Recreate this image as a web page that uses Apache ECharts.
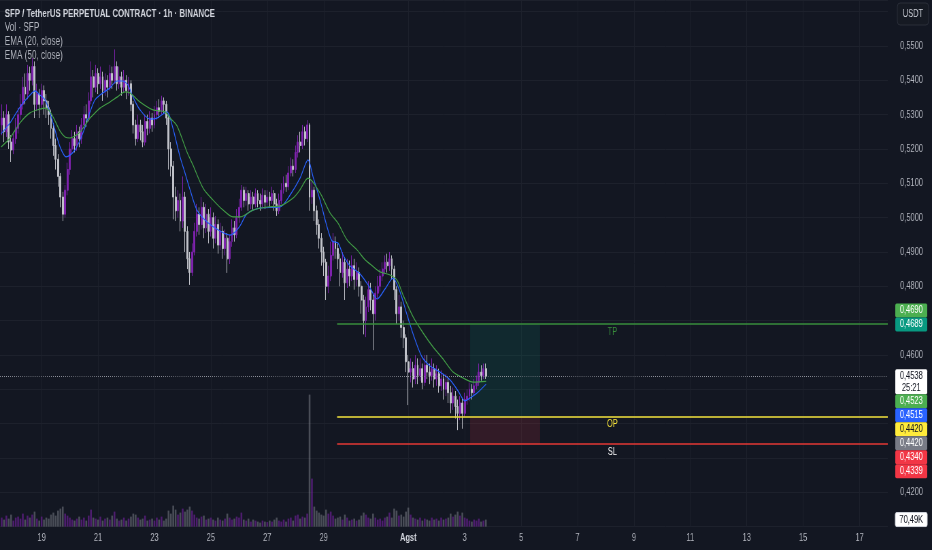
<!DOCTYPE html>
<html>
<head>
<meta charset="utf-8">
<script src="https://cdn.jsdelivr.net/npm/echarts@6/dist/echarts.min.js"></script>
<style>
html,body{margin:0;padding:0;background:#131722;overflow:hidden;width:932px;height:550px;}
#c{width:1370px;height:550px;transform:scaleX(0.680292);transform-origin:0 0;}
</style>
</head>
<body>
<div id="c"></div>
<script>
// ---------------- DATA (prices in 1e-4 USDT, time in hours from 17 Jul 00:00) ----------------
const startHour = 14;          // first candle (2h candles)
const stepHours = 2;
const firstOpenE4 = 5270;
const closeE4 = [
5290,5250,5300,5220,5197,5230,5260,5300,5330,5380,
5360,5420,5400,5440,5330,5360,5330,5370,5340,5320,
5300,5260,5210,5170,5120,5060,5010,5080,5140,5200,
5230,5210,5250,5230,5270,5300,5290,5340,5410,5380,
5420,5390,5410,5370,5400,5380,5420,5400,5440,5390,
5410,5380,5400,5370,5390,5330,5270,5230,5270,5250,
5220,5280,5260,5290,5270,5300,5320,5310,5340,5330,
5290,5200,5150,5060,5020,5050,4990,5060,4960,4880,
4840,4900,4960,5010,4980,5030,4970,5010,4960,5000,
4940,4980,4920,4960,4910,4940,4880,4930,4970,4950,
5000,5030,5080,5050,5070,5040,5060,5040,5070,5050,
5040,5065,5045,5060,5050,5070,5040,5020,5050,5080,
5100,5090,5130,5150,5140,5190,5220,5210,5250,5230,
5270,5060,5080,5020,4980,4940,4900,4870,4800,4830,
4890,4930,4910,4880,4840,4870,4810,4850,4830,4860,
4820,4840,4800,4760,4700,4740,4790,4760,4720,4780,
4800,4830,4850,4870,4860,4880,4850,4790,4720,4740,
4680,4650,4580,4550,4560,4530,4570,4540,4560,4520,
4570,4550,4540,4560,4530,4545,4510,4530,4500,4520,
4490,4460,4480,4450,4430,4460,4430,4470,4480,4500,
4490,4510,4520,4550,4540,4560,4538
];
const highE4 = [
5330,5310,5330,5310,5240,5250,5290,5320,5360,5410,
5420,5445,5440,5465,5455,5390,5375,5390,5385,5360,
5340,5315,5275,5230,5185,5130,5075,5095,5160,5220,
5255,5250,5270,5265,5290,5325,5330,5365,5455,5430,
5445,5435,5440,5425,5420,5415,5445,5440,5490,5455,
5440,5425,5430,5415,5410,5400,5340,5285,5300,5285,
5270,5300,5300,5310,5305,5325,5340,5345,5355,5350,
5340,5300,5220,5165,5090,5080,5070,5120,5075,4975,
4900,4925,4985,5040,5030,5060,5045,5040,5025,5030,
5015,5005,4995,4985,4975,4965,4955,4950,4995,4990,
5025,5055,5095,5090,5090,5080,5080,5075,5085,5080,
5070,5085,5080,5080,5075,5090,5080,5055,5070,5100,
5120,5125,5150,5175,5170,5210,5240,5250,5270,5265,
5284,5275,5110,5090,5035,4995,4955,4915,4880,4860,
4930,4955,4945,4925,4895,4900,4885,4880,4875,4890,
4880,4870,4855,4815,4775,4770,4815,4810,4775,4800,
4830,4850,4870,4890,4895,4900,4890,4860,4800,4775,
4755,4700,4660,4600,4590,4580,4600,4590,4590,4575,
4600,4600,4575,4590,4575,4570,4560,4555,4545,4545,
4535,4510,4505,4495,4470,4480,4475,4490,4500,4520,
4515,4530,4540,4575,4570,4575,4575
];
const lowE4 = [
5240,5220,5235,5200,5162,5185,5215,5245,5285,5315,
5330,5345,5370,5385,5290,5310,5290,5315,5300,5290,
5270,5230,5180,5140,5090,5030,4990,5000,5065,5125,
5185,5190,5195,5205,5215,5255,5265,5280,5330,5350,
5365,5360,5375,5340,5355,5350,5370,5375,5390,5370,
5375,5355,5365,5345,5355,5310,5245,5210,5220,5225,
5205,5210,5240,5245,5250,5260,5285,5290,5300,5305,
5270,5140,5120,4995,4990,5000,4960,4970,4900,4850,
4804,4830,4890,4945,4950,4965,4940,4955,4925,4945,
4910,4925,4895,4905,4880,4890,4839,4865,4915,4930,
4940,4985,5020,5030,5035,5020,5025,5020,5030,5030,
5020,5030,5025,5035,5030,5040,5020,5005,5010,5040,
5070,5075,5080,5120,5120,5130,5175,5190,5200,5210,
5220,5020,5040,4990,4950,4910,4860,4830,4760,4780,
4815,4875,4880,4850,4800,4825,4760,4795,4800,4815,
4790,4800,4770,4720,4660,4652,4725,4730,4614,4700,
4765,4785,4815,4835,4840,4845,4820,4760,4690,4700,
4650,4620,4550,4454,4520,4505,4515,4515,4525,4500,
4510,4530,4515,4525,4505,4510,4490,4495,4470,4480,
4460,4430,4440,4415,4381,4410,4385,4420,4455,4465,
4470,4480,4500,4510,4525,4530,4530
];
const volumeK = [
90,70,110,80,120,60,90,100,80,130,
70,110,90,120,150,80,60,100,70,90,
80,120,140,110,160,180,200,130,110,90,
70,60,80,100,70,90,60,110,170,90,
80,70,100,60,80,90,70,110,150,80,
60,70,90,60,80,100,130,120,90,70,
80,110,60,70,80,60,90,70,100,60,
80,160,130,210,170,120,140,180,150,170,
200,160,120,90,80,100,110,70,80,90,
70,60,90,70,60,80,130,90,70,80,
100,90,140,70,60,80,50,70,60,50,
40,60,50,45,60,50,70,90,60,50,
70,50,80,90,60,110,120,80,100,90,
130,1320,480,200,160,140,120,110,170,130,
150,110,80,90,100,70,120,90,60,70,
80,60,70,110,140,120,90,80,130,90,
70,80,60,90,100,140,90,180,160,110,
120,100,150,190,120,90,80,70,90,60,
80,70,60,90,70,80,60,90,70,80,
90,130,100,120,150,110,140,90,80,60,
50,70,60,80,50,60,70
];
const lastVolumeK = 70.49;
const ema20Hours = [13.5,21.1,29.6,38.1,42.4,46.6,50.9,55.2,59.4,63.7,68.8,72.2,76.4,80.7,85,89.2,93.4,97.7,106.2,112.2,116.4,121.5,125.8,131.7,140.3,146.2,154.7,159,165.8,170,174.3,180.2,188.8,199.8,208.3,212.6,216.8,222.8,233.9,250.9,259.4,267.9,274.7,279,284.9,290.9,295.1,300.2,304.5,310.5,319,327.5,333.4,340.2,347,353,359,365.8,371.7,378.5,387,395.6,402.4,408.3,412.6,418.5,426.2];
const ema20E4 = [5244,5276,5322,5357,5369,5357,5343,5305,5255,5206,5177,5182,5197,5226,5264,5308,5343,5357,5378,5398,5398,5386,5351,5314,5287,5290,5308,5270,5177,5130,5081,5022,4987,4961,4949,4958,4976,5011,5028,5031,5066,5115,5168,5118,5051,4973,4932,4926,4891,4859,4836,4795,4763,4792,4824,4783,4716,4644,4594,4568,4550,4527,4495,4466,4475,4489,4515];
const ema50Hours = [13.5,21.1,29.6,38.1,46.6,50.9,55.2,59.4,63.7,67.9,72.2,76.4,80.7,85,89.2,93.4,97.7,106.2,112.2,119,123.2,131.7,142.8,153,157.3,163.2,171.7,176.8,185.4,193.9,202.4,210.9,216.8,227.9,239.8,250.9,262,267.9,274.7,284.9,293.4,300.2,307.9,316.4,323.2,327.5,336,344.5,350.4,355.5,364.1,372.6,381.1,389.6,398.1,406.6,415.1,426.2];
const ema50E4 = [5206,5232,5276,5305,5316,5319,5308,5282,5252,5235,5232,5238,5249,5270,5290,5305,5319,5337,5351,5366,5363,5337,5314,5308,5290,5267,5191,5153,5086,5051,5022,5002,5002,5022,5031,5034,5057,5081,5115,5072,5014,4984,4935,4906,4877,4865,4842,4833,4818,4775,4711,4664,4623,4588,4550,4533,4521,4523];

// time axis
const axisStartHour = 12.6, axisEndHour = 768;
const dayTickHours = [48,96,144,192,240,288,360,408,456,504,552,600,648,696,744];
const dayTickLabels = ['19','21','23','25','27','29','Agst','3','5','7','9','11','13','15','17'];
// price axis
const priceMinE4 = 4100, priceMaxE4 = 5633.9, priceStepE4 = 100;
const priceLabelsShownE4 = [4200,4600,4800,4900,5000,5100,5200,5300,5400,5500];
const volumeAxisMaxK = 5266;

// trade levels
const lastPriceE4 = 4538, countdown = '25:21';
const tpLineE4 = 4690, slLineE4 = 4340, opLineE4 = 4420;
const posTargetE4 = 4689, posEntryE4 = 4420, posStopE4 = 4339;
const levelLineStartHour = 299.4;
const positionStartHour = 412.6, positionEndHour = 472.2;

const titleText = 'SFP / TetherUS PERPETUAL CONTRACT · 1h · BINANCE';
const legendLines = ['Vol · SFP', 'EMA (20, close)', 'EMA (50, close)'];

// ---------------- CHART ----------------
const FONT = '"Liberation Sans", Arial, sans-serif';
const UP = '#7e22ad', DOWN = '#c0c2c9';
const pip = v => v / 10000;
const fmt = v => pip(v).toFixed(4).replace('.', ',');

const candles = closeE4.map((c, i) => {
  const o = i === 0 ? firstOpenE4 : closeE4[i - 1];
  return [startHour + i * stepHours, pip(o), pip(c), pip(lowE4[i]), pip(highE4[i])];
});
const volData = volumeK.map((v, i) => {
  const o = i === 0 ? firstOpenE4 : closeE4[i - 1];
  const up = closeE4[i] >= o;
  return { value: [startHour + i * stepHours, v],
           itemStyle: { color: up ? 'rgba(126,34,173,0.55)' : 'rgba(178,181,190,0.35)' } };
});
const ema20 = ema20Hours.map((h, i) => [h, pip(ema20E4[i])]);
const ema50 = ema50Hours.map((h, i) => [h, pip(ema50E4[i])]);

const chart = echarts.init(document.getElementById('c'), null, { renderer: 'canvas' });

const titles = [{
  text: titleText, left: 7, top: 7, padding: 0,
  textStyle: { color: '#d1d4dc', fontSize: 11.5, fontWeight: 'bold', fontFamily: FONT, lineHeight: 14 }
}].concat(legendLines.map((t, k) => ({
  text: t, left: 7, top: 21 + 14 * k, padding: 0,
  textStyle: { color: '#b2b5be', fontSize: 12, fontWeight: 'normal', fontFamily: FONT, lineHeight: 14 }
})));

const levelLine = (vE4, color, width, label, labelColor) => ([
  { coord: [levelLineStartHour, pip(vE4)],
    lineStyle: { color: color, width: width, type: 'solid' },
    label: { show: true, position: 'insideMiddleBottom', distance: 2, formatter: label,
             color: labelColor, fontSize: 11, fontFamily: FONT } },
  { coord: [axisEndHour, pip(vE4)] }
]);

chart.setOption({
  backgroundColor: '#131722',
  animation: false,
  title: titles,
  grid: { left: 0, right: 65, top: 0, bottom: 23.4, containLabel: false, outerBoundsMode: 'none' },
  xAxis: {
    type: 'value', min: axisStartHour, max: axisEndHour,
    axisLine: { show: false }, axisTick: { show: false }, splitLine: { show: false },
    axisLabel: {
      customValues: dayTickHours, margin: 6, color: '#b2b5be', fontSize: 11, fontFamily: FONT,
      formatter: v => {
        const k = dayTickHours.indexOf(v);
        const t = k >= 0 ? dayTickLabels[k] : '';
        return isNaN(Number(t)) ? '{b|' + t + '}' : t;
      },
      rich: { b: { color: '#d1d4dc', fontWeight: 'bold', fontSize: 11, fontFamily: FONT } }
    }
  },
  yAxis: [{
    type: 'value', position: 'right', min: pip(priceMinE4), max: pip(priceMaxE4), interval: pip(priceStepE4),
    axisLine: { show: false }, axisTick: { show: false },
    splitLine: { show: true, lineStyle: { color: '#1d212c', width: 1 } },
    axisLabel: {
      inside: false, margin: 18, align: 'left', color: '#b2b5be', fontSize: 11, fontFamily: FONT,
      formatter: v => {
        const e4 = Math.round(v * 10000);
        return priceLabelsShownE4.indexOf(e4) >= 0 ? fmt(e4) : '';
      }
    }
  }, {
    type: 'value', show: false, min: 0, max: volumeAxisMaxK, splitLine: { show: false }
  }],
  series: [{
    name: 'Vol', type: 'bar', xAxisIndex: 0, yAxisIndex: 1, barWidth: 2.6, data: volData, z: 1,
    markLine: {
      silent: true, symbol: ['none', 'none'], z: 0, label: { show: false },
      lineStyle: { color: '#1d212c', width: 1, type: 'solid' },
      data: dayTickHours.map(h => ({ xAxis: h }))
    }
  }, {
    name: 'SFP', type: 'candlestick', xAxisIndex: 0, yAxisIndex: 0,
    encode: { x: 0, y: [1, 2, 3, 4] },
    barWidth: 2.4, data: candles, z: 3,
    itemStyle: { color: UP, color0: DOWN, borderColor: UP, borderColor0: DOWN, borderWidth: 1 },
    markArea: {
      silent: true, z: 1,
      data: [
        [{ coord: [positionStartHour, pip(posTargetE4)], itemStyle: { color: 'rgba(8,153,129,0.14)' } },
         { coord: [positionEndHour, pip(posEntryE4)] }],
        [{ coord: [positionStartHour, pip(posEntryE4)], itemStyle: { color: 'rgba(242,54,69,0.14)' } },
         { coord: [positionEndHour, pip(posStopE4)] }]
      ]
    },
    markLine: {
      silent: true, symbol: ['none', 'none'], z: 6,
      data: [
        [{ coord: [axisStartHour, pip(lastPriceE4)], label: { show: false },
           lineStyle: { color: '#9598a1', width: 1, type: [1, 2] } },
         { coord: [axisEndHour, pip(lastPriceE4)] }],
        levelLine(tpLineE4, '#388e3c', 1.5, 'TP', '#388e3c'),
        levelLine(opLineE4, 'rgba(230,215,60,0.8)', 2, 'OP', '#ffeb3b'),
        levelLine(slLineE4, '#e53935', 1.5, 'SL', '#ffffff')
      ]
    }
  }, {
    name: 'EMA 20', type: 'line', data: ema20, smooth: 0.3, symbol: 'none', z: 4,
    lineStyle: { color: '#2962ff', width: 1.2 }
  }, {
    name: 'EMA 50', type: 'line', data: ema50, smooth: 0.3, symbol: 'none', z: 4,
    lineStyle: { color: '#43a047', width: 1.2 }
  }]
});

// ---------------- price-scale badges (positioned through the axis scale) ----------------
const plotRight = chart.convertToPixel({ xAxisIndex: 0 }, axisEndHour);
const bx = plotRight + 11, bw = 47;
const badges = [
  { v: tpLineE4, text: fmt(tpLineE4), bg: '#4caf50', fg: '#ffffff' },
  { v: posTargetE4, text: fmt(posTargetE4), bg: '#089981', fg: '#ffffff', anchor: true },
  { v: lastPriceE4, text: fmt(lastPriceE4), sub: countdown, bg: '#ffffff', fg: '#131722', anchor: true, tall: true },
  { v: ema50E4[ema50E4.length - 1], text: fmt(ema50E4[ema50E4.length - 1]), bg: '#4caf50', fg: '#ffffff' },
  { v: ema20E4[ema20E4.length - 1], text: fmt(ema20E4[ema20E4.length - 1]), bg: '#2962ff', fg: '#ffffff' },
  { v: opLineE4, text: fmt(opLineE4), bg: '#ffeb3b', fg: '#131722' },
  { v: posEntryE4, text: fmt(posEntryE4), bg: '#787b86', fg: '#ffffff' },
  { v: slLineE4, text: fmt(slLineE4), bg: '#f23645', fg: '#ffffff' },
  { v: posStopE4, text: fmt(posStopE4), bg: '#f23645', fg: '#ffffff' }
];
badges.forEach(b => {
  b.y = chart.convertToPixel({ yAxisIndex: 0 }, pip(b.v));
  b.upH = 7; b.downH = b.tall ? 18 : 7;
});
const sorted = badges.slice().sort((a, b) => a.y - b.y);
const firstAnchor = sorted.findIndex(b => b.anchor);
let prevBottom = -Infinity;
sorted.forEach((b, i) => {
  if (i < firstAnchor) return;
  b.c = Math.max(b.y, prevBottom + b.upH);
  prevBottom = b.c + b.downH;
});
let nextTop = sorted[firstAnchor].c - sorted[firstAnchor].upH;
for (let i = firstAnchor - 1; i >= 0; i--) {
  const b = sorted[i];
  b.c = Math.min(b.y, nextTop - b.downH);
  nextTop = b.c - b.upH;
}
const gfx = [];
const txt = (x, y, s, fill, size, weight) => ({
  type: 'text', x: x, y: y, z: 102,
  style: { text: s, fill: fill, font: (weight || 'normal') + ' ' + (size || 11) + 'px ' + FONT,
           align: 'center', verticalAlign: 'middle', textAlign: 'center', textVerticalAlign: 'middle' }
});
sorted.forEach(b => {
  const top = b.c - b.upH, h = b.upH + b.downH;
  gfx.push({ type: 'rect', z: 101, shape: { x: bx, y: top, width: bw, height: h, r: 2 }, style: { fill: b.bg } });
  gfx.push(txt(bx + bw / 2, b.c, b.text, b.fg));
  if (b.sub) gfx.push(txt(bx + bw / 2, b.c + 12, b.sub, b.fg));
});
// volume badge
const vy = chart.convertToPixel({ yAxisIndex: 1 }, lastVolumeK);
gfx.push({ type: 'rect', z: 101, shape: { x: bx, y: vy - 7, width: bw, height: 14, r: 2 },
           style: { fill: '#ffffff', stroke: '#d1d4dc', lineWidth: 1 } });
gfx.push(txt(bx + bw / 2, vy, lastVolumeK.toFixed(2).replace('.', ',') + 'K', '#131722'));
// currency box (price-scale header)
gfx.push({ type: 'rect', z: 101, shape: { x: bx + 3, y: 3, width: 46, height: 22, r: 4 },
           style: { fill: '#161a23', stroke: '#2a2e39', lineWidth: 1 } });
gfx.push(txt(bx + 26, 14, 'USDT', '#d1d4dc', 11));
chart.setOption({ graphic: { elements: gfx } });
</script>
</body>
</html>
